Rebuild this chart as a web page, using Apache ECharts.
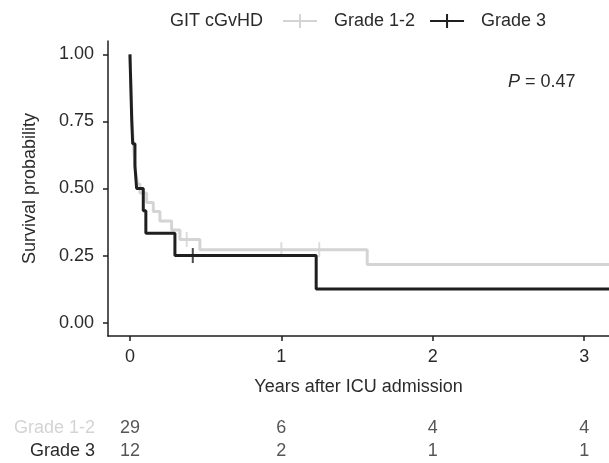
<!DOCTYPE html>
<html>
<head>
<meta charset="utf-8">
<script src="https://cdn.jsdelivr.net/npm/echarts@6/dist/echarts.min.js"></script>
<style>
  html, body { margin: 0; padding: 0; background: #fff; }
  #chart { width: 609px; height: 463px; }
</style>
</head>
<body>
<div id="chart"></div>
<script>
// Kaplan-Meier steps: [years, survival]
var grade12Steps = [
  [0, 1], [0.002, 0.966], [0.004, 0.931], [0.006, 0.897], [0.008, 0.862],
  [0.010, 0.828], [0.012, 0.793], [0.014, 0.759], [0.017, 0.724], [0.020, 0.690],
  [0.024, 0.655], [0.028, 0.621], [0.033, 0.586], [0.040, 0.552], [0.050, 0.517],
  [0.066, 0.483], [0.110, 0.448], [0.154, 0.414], [0.198, 0.379], [0.275, 0.345],
  [0.330, 0.310], [0.462, 0.272], [1.567, 0.217], [3.164, 0.217]
]
var grade3Steps = [
  [0, 1], [0.004, 0.917], [0.008, 0.833], [0.012, 0.750], [0.018, 0.667],
  [0.033, 0.583], [0.044, 0.500], [0.088, 0.417], [0.105, 0.333], [0.297, 0.250],
  [1.230, 0.125], [3.164, 0.125]
]
var grade12Censor = [[0.375, 0.310], [1.000, 0.272], [1.250, 0.272]]
var grade3Censor = [[0.415, 0.250]]

// numbers at risk
var riskTimes = [0, 1, 2, 3]
var riskGrade12 = [29, 6, 4, 4]
var riskGrade3 = [12, 2, 1, 1]
var riskRows = ['Grade 1-2', 'Grade 3']

var yTicks = [0, 0.25, 0.5, 0.75, 1]
var xTicks = [0, 1, 2, 3]

var grey = '#d4d4d4'
var dark = '#1f1f1f'
var textColor = '#2b2b2b'
var font = 'Liberation Sans, Arial, sans-serif'
var fs = 18

var legendIcon = 'path://M0,6L34,6L34,8L0,8Z M16,0L18,0L18,14L16,14Z'

var chart = echarts.init(document.getElementById('chart'))

function riskPoints(vals, row) {
  return riskTimes.map(function (t, i) { return [t, row, vals[i]] })
}

chart.setOption({
  animation: false,
  textStyle: { fontFamily: font },
  grid: [
    { left: 108, right: 0, top: 41, height: 295 },
    { left: 108, right: 0, top: 417, height: 46 }
  ],
  legend: {
    left: 283,
    top: 12,
    padding: 0,
    itemWidth: 34,
    itemHeight: 14,
    itemGap: 15,
    textStyle: { fontSize: fs, color: textColor, padding: [0, 0, 0, 12], fontFamily: font },
    data: [
      { name: 'Grade 1-2', icon: legendIcon },
      { name: 'Grade 3', icon: legendIcon }
    ]
  },
  graphic: [
    {
      type: 'text', left: 170, top: 12,
      style: { text: 'GIT cGvHD', fontSize: fs, fill: textColor, fontFamily: font }
    },
    {
      type: 'text', left: 508, top: 73,
      style: {
        text: '{i|P} = 0.47',
        fontSize: fs, fill: textColor, fontFamily: font,
        rich: { i: { fontStyle: 'italic', fontSize: fs, fill: textColor, fontFamily: font } }
      }
    }
  ],
  xAxis: [
    {
      gridIndex: 0, type: 'value', min: -0.145, max: 3.164,
      name: 'Years after ICU admission', nameLocation: 'middle', nameGap: 42,
      nameTextStyle: { fontSize: fs, color: textColor },
      axisLine: { show: true, onZero: false, lineStyle: { color: dark, width: 1.5 } },
      axisTick: { show: true, length: 5, customValues: xTicks, lineStyle: { color: dark, width: 1.5 } },
      axisLabel: { customValues: xTicks, fontSize: fs, color: textColor, margin: 12 },
      splitLine: { show: false }
    },
    {
      gridIndex: 1, type: 'value', min: -0.145, max: 3.164, show: false
    }
  ],
  yAxis: [
    {
      gridIndex: 0, type: 'value', min: -0.05, max: 1.05,
      name: 'Survival probability', nameLocation: 'middle', nameGap: 69,
      nameTextStyle: { fontSize: fs, color: textColor },
      axisLine: { show: true, onZero: false, lineStyle: { color: dark, width: 1.5 } },
      axisTick: { show: true, length: 5, customValues: yTicks, lineStyle: { color: dark, width: 1.5 } },
      axisLabel: {
        customValues: yTicks, fontSize: fs, color: textColor, margin: 14,
        formatter: function (v) { return v.toFixed(2) }
      },
      splitLine: { show: false }
    },
    {
      gridIndex: 1, type: 'category', data: riskRows, inverse: true,
      axisLine: { show: false }, axisTick: { show: false },
      axisLabel: {
        interval: 0, hideOverlap: false,
        fontSize: fs, margin: 13,
        formatter: function (v) { return v === 'Grade 1-2' ? '{g|' + v + '}' : '{k|' + v + '}' },
        rich: { g: { color: grey, fontSize: fs }, k: { color: textColor, fontSize: fs } }
      }
    }
  ],
  series: [
    {
      name: 'Grade 1-2', type: 'line', step: 'end', data: grade12Steps,
      xAxisIndex: 0, yAxisIndex: 0, showSymbol: false, symbol: 'none',
      color: grey, lineStyle: { color: grey, width: 3 }
    },
    {
      name: 'Grade 1-2 censored', type: 'scatter', data: grade12Censor,
      xAxisIndex: 0, yAxisIndex: 0, symbol: 'rect', symbolSize: [2, 15],
      itemStyle: { color: grey }
    },
    {
      name: 'Grade 3', type: 'line', step: 'end', data: grade3Steps,
      xAxisIndex: 0, yAxisIndex: 0, showSymbol: false, symbol: 'none',
      color: dark, lineStyle: { color: dark, width: 3 }
    },
    {
      name: 'Grade 3 censored', type: 'scatter', data: grade3Censor,
      xAxisIndex: 0, yAxisIndex: 0, symbol: 'rect', symbolSize: [2, 15],
      itemStyle: { color: dark }
    },
    {
      name: 'risk', type: 'scatter', xAxisIndex: 1, yAxisIndex: 1,
      data: riskPoints(riskGrade12, 'Grade 1-2').concat(riskPoints(riskGrade3, 'Grade 3')),
      symbolSize: 0,
      label: {
        show: true, position: 'inside', fontSize: fs, color: textColor,
        formatter: function (p) { return p.value[2] }
      }
    }
  ]
})
</script>
</body>
</html>
